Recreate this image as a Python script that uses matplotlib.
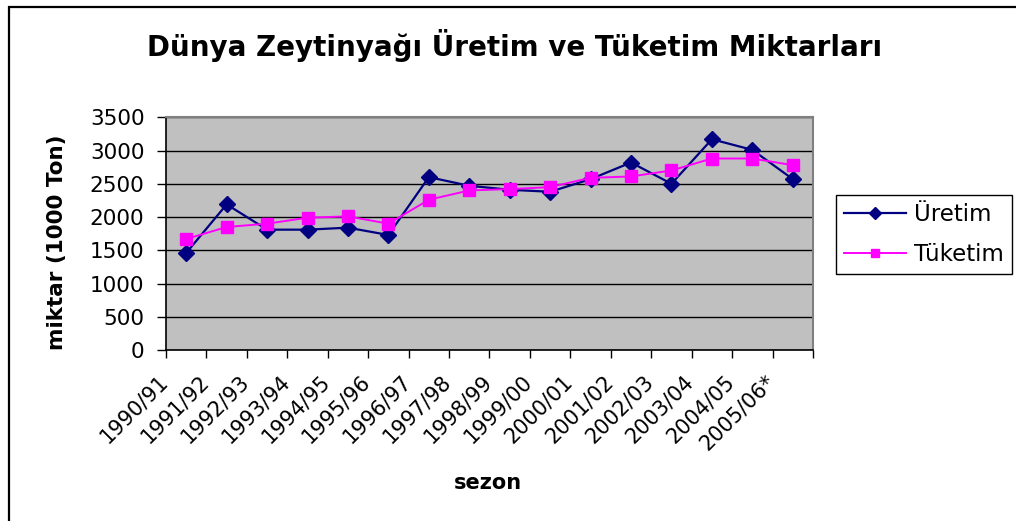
import matplotlib
matplotlib.use('Agg')
import matplotlib.pyplot as plt
import numpy as np
from matplotlib.patches import Rectangle
from matplotlib.transforms import offset_copy

seasons = ['1990/91', '1991/92', '1992/93', '1993/94', '1994/95', '1995/96',
           '1996/97', '1997/98', '1998/99', '1999/00', '2000/01', '2001/02',
           '2002/03', '2003/04', '2004/05', '2005/06*']
uretim = [1460, 2190, 1810, 1810, 1840, 1730, 2600, 2470, 2410, 2380,
          2570, 2820, 2500, 3170, 3010, 2570]
tuketim = [1670, 1850, 1900, 1990, 2010, 1900, 2260, 2400, 2420, 2450,
           2590, 2610, 2700, 2880, 2880, 2780]
yticks = [0, 500, 1000, 1500, 2000, 2500, 3000, 3500]

title = 'Dünya Zeytinyağı Üretim ve Tüketim Miktarları'
ylabel = 'miktar (1000 Ton)'
xlabel = 'sezon'

plt.rcParams['font.family'] = ['DejaVu Sans']

W, H = 1016, 521
fig = plt.figure(figsize=(W / 100, H / 100), dpi=100)

# outer chart border (extends beyond the right/bottom edges)
fig.patches.append(Rectangle((9 / W, -0.2), 1.5, 1 - 7 / H + 0.2,
                             transform=fig.transFigure, fill=False,
                             edgecolor='black', linewidth=1.6))

ax = fig.add_axes([166 / W, 1 - 350 / H, 647 / W, (350 - 117.3) / H])
ax.set_facecolor('#C0C0C0')

x = np.arange(len(seasons))
ax.plot(x, uretim, color='#000080', marker='D', markersize=8.5,
        linewidth=1.6, label='Üretim', zorder=3)
ax.plot(x, tuketim, color='#FF00FF', marker='s', markersize=8.5,
        linewidth=1.4, label='Tüketim', zorder=3)

ax.set_xlim(-0.5, len(seasons) - 0.5)
ax.set_ylim(0, 3500)
ax.set_yticks(yticks)
ax.set_yticklabels([str(v) for v in yticks], fontsize=15.5)
ax.yaxis.grid(True, color='black', linewidth=1.0)
ax.set_axisbelow(True)

ax.set_xticks(np.arange(-0.5, len(seasons)))
ax.set_xticklabels([])
ax.tick_params(axis='x', direction='out', length=6, width=1, color='black')
ax.tick_params(axis='y', direction='out', length=6.5, width=1, pad=9)

for s in ['left', 'bottom']:
    ax.spines[s].set_color('black')
    ax.spines[s].set_linewidth(1.2)
for s in ['top', 'right']:
    ax.spines[s].set_color('#808080')
    ax.spines[s].set_linewidth(1.5)

# rotated category labels, anchored at the left boundary of each category
base = offset_copy(ax.get_xaxis_transform(), fig=fig, x=-8, y=-21, units='dots')
for i, lab in enumerate(seasons):
    ax.text(i - 0.5, 0, lab, transform=base, rotation=45,
            rotation_mode='anchor', ha='right', va='top', fontsize=15)

fig.text(515 / W, 1 - 45 / H, title, ha='center', va='center',
         fontsize=20, fontweight='bold')
fig.text(57 / W, 1 - 242 / H, ylabel, ha='center', va='center',
         rotation=90, fontsize=15.5, fontweight='bold')
fig.text(488 / W, 1 - 483 / H, xlabel, ha='center', va='center',
         fontsize=15, fontweight='bold')

leg = ax.legend(loc='upper left', bbox_to_anchor=(836 / W, 1 - 195 / H),
                bbox_transform=fig.transFigure, fontsize=16.5, frameon=True,
                fancybox=False, edgecolor='black', framealpha=1,
                borderpad=0.35, labelspacing=0.75, handlelength=2.7,
                handletextpad=0.35, borderaxespad=0, markerscale=0.7)
leg.get_frame().set_linewidth(1.0)

fig.savefig('out.png', dpi=100)
